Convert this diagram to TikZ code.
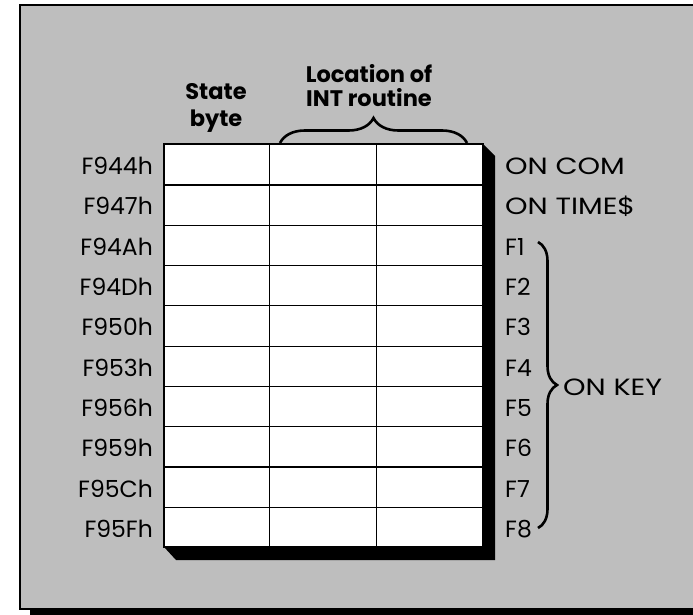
\documentclass[tikz,border=0pt]{standalone}
\usepackage{fontspec}
\setmainfont{Poppins}
\newfontfamily\widefont[FakeStretch=1.22]{Poppins}
\usetikzlibrary{decorations.pathreplacing}
\definecolor{bgtex}{RGB}{190,190,190}
\tikzset{
  lab/.style={font=\fontsize{23.5}{23.5}\selectfont, inner sep=0pt},
  widelab/.style={font=\widefont\fontsize{23.5}{23.5}\selectfont, inner sep=0pt},
  head/.style={font=\fontsize{22.5}{24}\selectfont\bfseries, inner sep=0pt, align=center},
  cell/.style={draw=black, line width=1.2pt, fill=white},
  bracestyle/.style={draw=black, line width=2.6pt, decorate},
}
\begin{document}
\begin{tikzpicture}[x=1pt,y=-1pt]
\useasboundingbox (0,0) rectangle (693,615);
\clip (0,0) rectangle (693,615);
% outer frame
\fill[black] (30,609) rectangle (720,616);
\path[fill=bgtex, draw=black, line width=1.3pt] (20,5) rectangle (720,609);
% table shadow
\fill[black] (164,547) -- (176,560) -- (495,560) -- (495,156) -- (483,144) -- cycle;
% table cells
\foreach \i in {0,...,9} {
  \pgfmathsetmacro{\ya}{144+\i*40.3}
  \node[cell, inner sep=0pt, anchor=north west, minimum width=105pt, minimum height=40.3pt] (c\i a) at (164,\ya) {};
  \node[cell, inner sep=0pt, anchor=north west, minimum width=107pt, minimum height=40.3pt] (c\i b) at (269,\ya) {};
  \node[cell, inner sep=0pt, anchor=north west, minimum width=107pt, minimum height=40.3pt] (c\i c) at (376,\ya) {};
}
\draw[line width=1.8pt] (164,144) rectangle (483,547);
% row labels
\foreach \t [count=\k from 0] in {F944h,F947h,F94Ah,F94Dh,F950h,F953h,F956h,F959h,F95Ch,F95Fh} {
  \pgfmathsetmacro{\yc}{144+(\k+0.5)*40.3+10.5}
  \node[lab, anchor=base east] (r\k) at (153,\yc) {\t};
}
% right labels
\node[widelab, anchor=base west] (q0) at (505,{144+0.5*40.3+10.5}) {ON COM};
\node[widelab, anchor=base west] (q1) at (505,{144+1.5*40.3+10.5}) {ON TIME\$};
\foreach \t [count=\k from 2] in {F1,F2,F3,F4,F5,F6,F7,F8} {
  \pgfmathsetmacro{\yc}{144+(\k+0.5)*40.3+10.5}
  \node[lab, anchor=base west] (q\k) at (505,\yc) {\t};
}
% headers
\node[head, anchor=base] (state) at (216,100) {State};
\node[head, anchor=base] (byte) at (216,127) {byte};
\node[head, anchor=base] (loc) at (369,83) {Location of};
\node[head, anchor=base] (int) at (369,107) {INT routine};
% braces
\coordinate (tb1) at (280,143);
\coordinate (tb2) at (467,143);
\draw[bracestyle, decoration={brace, amplitude=25pt}] (tb1) -- (tb2);
\coordinate (rb1) at (538,242);
\coordinate (rb2) at (538,528);
\draw[bracestyle, decoration={brace, amplitude=19pt}] (rb1) -- (rb2);
\node[widelab, anchor=base west] (onkey) at (563,395) {ON KEY};
\end{tikzpicture}
\end{document}
